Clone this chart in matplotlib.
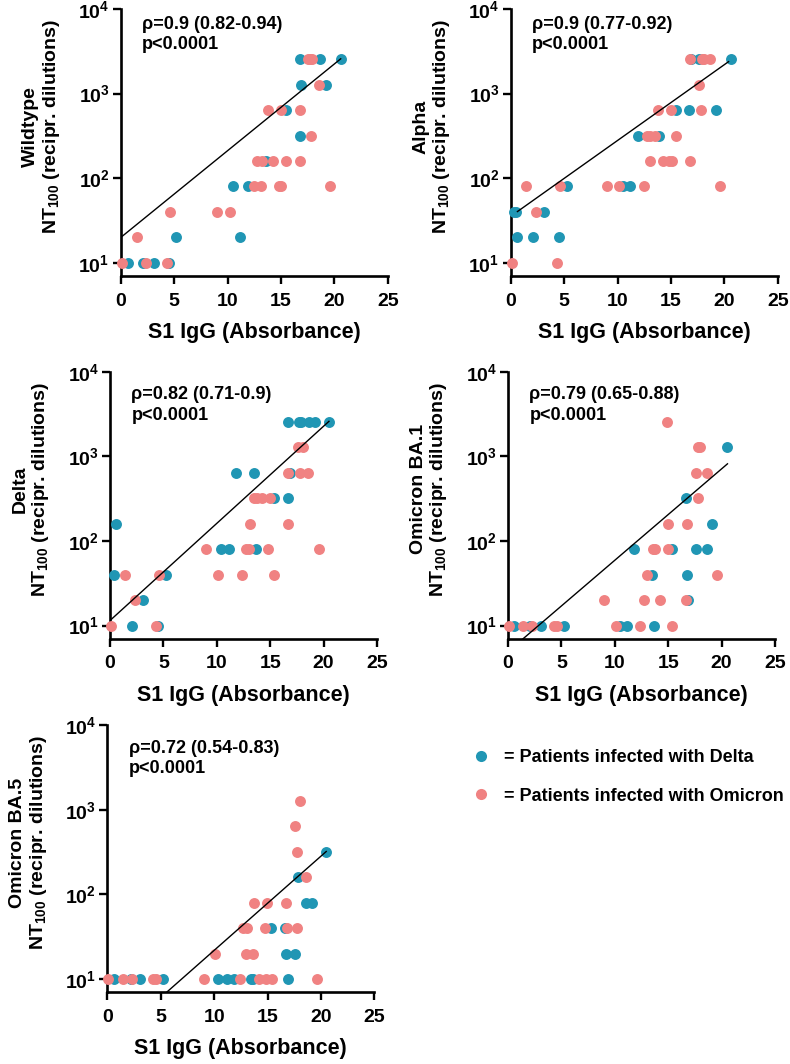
import matplotlib
matplotlib.use("Agg")
import matplotlib.pyplot as plt
from matplotlib.lines import Line2D
import numpy as np

plt.rcParams['font.family'] = ['Liberation Sans', 'DejaVu Sans']
plt.rcParams['font.weight'] = 'bold'
plt.rcParams['mathtext.fontset'] = 'custom'
plt.rcParams['mathtext.rm'] = 'Liberation Sans:bold'
plt.rcParams['mathtext.bf'] = 'Liberation Sans:bold'
plt.rcParams['mathtext.default'] = 'bf'

BLUE = '#2096b4'
PINK = '#f08282'

# ---- data (S1 IgG absorbance, NT100 titre) ----
# Wildtype
wt_delta_x = [16.8, 18.7, 20.6, 16.9, 19.25, 15.5, 16.75, 13.6, 10.5, 11.9, 5.2, 11.2, 0.65, 2.06, 3.15, 4.5]
wt_delta_y = [2560, 2560, 2560, 1280, 1280, 640, 320, 160, 80, 80, 20, 20, 10, 10, 10, 10]
wt_omi_x = [17.5, 17.7, 17.9, 18.6, 13.8, 15.0, 16.8, 17.8, 12.8, 13.2, 14.3, 15.5, 16.75,
            12.5, 13.1, 14.8, 15.0, 19.6, 4.65, 9.0, 10.2, 1.5, 0.1, 2.4, 4.3]
wt_omi_y = [2560, 2560, 2560, 1280, 640, 640, 640, 320, 160, 160, 160, 160, 160,
            80, 80, 80, 80, 80, 40, 40, 40, 20, 10, 10, 10]

# Alpha
al_delta_x = [16.9, 17.65, 20.6, 15.5, 16.7, 19.2, 11.9, 13.85, 5.25, 10.55, 11.2,
              0.3, 0.45, 3.15, 0.63, 2.06, 4.5]
al_delta_y = [2560, 2560, 2560, 640, 640, 640, 320, 320, 80, 80, 80,
              40, 40, 40, 20, 20, 20]
al_omi_x = [16.75, 17.9, 18.1, 18.7, 17.65, 13.8, 15.0, 17.8, 12.75, 13.06, 13.5, 15.5,
            13.06, 14.25, 14.8, 15.1, 16.75, 1.47, 4.6, 9.0, 10.15, 12.47, 19.6, 2.35, 0.15, 4.3]
al_omi_y = [2560, 2560, 2560, 2560, 1280, 640, 640, 640, 320, 320, 320, 320,
            160, 160, 160, 160, 160, 80, 80, 80, 80, 80, 80, 40, 10, 10]

# Delta
de_delta_x = [16.7, 17.65, 17.85, 18.66, 19.16, 20.5, 11.8, 13.46, 16.85, 15.36, 16.67,
              0.56, 10.4, 11.15, 13.7, 0.34, 5.2, 3.1, 2.06, 4.5]
de_delta_y = [2560, 2560, 2560, 2560, 2560, 2560, 640, 640, 640, 320, 320,
              160, 80, 80, 80, 40, 40, 20, 10, 10]
de_omi_x = [17.6, 18.07, 16.7, 17.75, 18.57, 13.5, 13.77, 14.2, 14.95, 13.08, 16.7,
            8.97, 12.74, 12.99, 14.83, 19.56, 1.4, 4.6, 10.1, 12.4, 15.39, 2.3, 0.1, 4.3]
de_omi_y = [1280, 1280, 640, 640, 640, 320, 320, 320, 320, 160, 160,
            80, 80, 80, 80, 80, 40, 40, 40, 40, 40, 20, 10, 10]

# Omicron BA.1
b1_delta_x = [20.5, 16.7, 19.1, 11.84, 15.4, 17.6, 18.66, 13.5, 16.8, 16.9,
              0.56, 2.06, 3.08, 5.23, 10.47, 11.15, 13.7]
b1_delta_y = [1280, 320, 160, 80, 80, 80, 80, 40, 40, 20,
              10, 10, 10, 10, 10, 10, 10]
b1_omi_x = [14.86, 17.8, 18.0, 17.6, 18.6, 17.8, 15.0, 16.8, 13.6, 13.8, 15.0, 13.0, 19.56,
            9.0, 12.77, 14.2, 16.7, 0.06, 1.43, 2.27, 4.3, 4.6, 10.1, 12.4, 15.4]
b1_omi_y = [2560, 1280, 1280, 640, 640, 320, 160, 160, 80, 80, 80, 40, 40,
            20, 20, 20, 20, 10, 10, 10, 10, 10, 10, 10, 10]

# Omicron BA.5
b5_delta_x = [20.5, 17.85, 18.63, 19.13, 15.36, 16.6, 16.73, 17.6,
              0.62, 2.18, 3.1, 5.17, 10.4, 11.2, 11.9, 13.5, 13.68, 16.9]
b5_delta_y = [320, 160, 80, 80, 40, 40, 20, 20,
              10, 10, 10, 10, 10, 10, 10, 10, 10, 10]
b5_omi_x = [18.0, 17.6, 17.8, 18.6, 13.74, 14.98, 16.73, 12.7, 13.1, 14.8, 16.8, 17.8,
            10.1, 12.96, 13.64, 0.1, 1.43, 2.34, 4.3, 4.6, 9.03, 12.46, 14.2, 14.9, 15.45, 19.6]
b5_omi_y = [1280, 640, 320, 160, 80, 80, 80, 40, 40, 40, 40, 40,
            20, 20, 20, 10, 10, 10, 10, 10, 10, 10, 10, 10, 10, 10]

variants = ['Wildtype', 'Alpha', 'Delta', 'Omicron BA.1', 'Omicron BA.5']
rho_text = ['ρ=0.9 (0.82-0.94)', 'ρ=0.9 (0.77-0.92)', 'ρ=0.82 (0.71-0.9)',
            'ρ=0.79 (0.65-0.88)', 'ρ=0.72 (0.54-0.83)']
# regression line: log10(NT100) = fit_b0 + fit_b1 * x, drawn from fit_x0 to fit_x1
fit_b0 = [1.30, 1.55, 1.06, 0.692, 0.226]
fit_b1 = [0.1025, 0.0896, 0.1148, 0.108, 0.1113]
fit_x0 = [0.0, 0.63, 0.0, 0.0, 0.0]
fit_x1 = [20.6, 20.4, 20.5, 20.55, 20.5]

delta_x = [wt_delta_x, al_delta_x, de_delta_x, b1_delta_x, b5_delta_x]
delta_y = [wt_delta_y, al_delta_y, de_delta_y, b1_delta_y, b5_delta_y]
omi_x = [wt_omi_x, al_omi_x, de_omi_x, b1_omi_x, b5_omi_x]
omi_y = [wt_omi_y, al_omi_y, de_omi_y, b1_omi_y, b5_omi_y]

W, H = 790, 1064
fig = plt.figure(figsize=(W / 100, H / 100), dpi=100)

# panel positions (left, top) in pixels, size in pixels
pos = [(120.7, 9), (510.7, 9), (110, 371.7), (508, 371.7), (107.3, 725.2)]
size = 267
text_y = [0.975, 0.975, 0.945, 0.945, 0.945]

for i in range(5):
    l, t = pos[i]
    ax = fig.add_axes([l / W, 1 - (t + size) / H, size / W, size / H])
    ax.scatter(delta_x[i], delta_y[i], s=62, color=BLUE, linewidths=0, zorder=3, clip_on=False)
    ax.scatter(omi_x[i], omi_y[i], s=62, color=PINK, linewidths=0, zorder=3, clip_on=False)
    xs = np.linspace(fit_x0[i], fit_x1[i], 100)
    ax.plot(xs, 10 ** (fit_b0[i] + fit_b1[i] * xs), color='black', lw=1.0, zorder=4)

    ax.set_yscale('log')
    ax.set_xlim(0, 25)
    ax.set_ylim(7, 10000)
    ax.set_xticks([0, 5, 10, 15, 20, 25])
    ax.set_yticks([10, 100, 1000, 10000])
    ax.set_yticklabels([r'$10^{1}$', r'$10^{2}$', r'$10^{3}$', r'$10^{4}$'])
    ax.minorticks_off()
    ax.tick_params(axis='both', labelsize=14, length=6, width=1.7)
    ax.tick_params(axis='x', pad=6)
    ax.tick_params(axis='y', pad=2)
    for side in ['top', 'right']:
        ax.spines[side].set_visible(False)
    for side in ['left', 'bottom']:
        ax.spines[side].set_linewidth(1.9)

    ax.set_xlabel('S1 IgG (Absorbance)', fontsize=15.5, fontweight='bold', labelpad=9)
    ax.set_ylabel(variants[i] + '\nNT$_{100}$ (recipr. dilutions)', fontsize=14,
                  fontweight='bold', multialignment='center', linespacing=1.1)
    ax.yaxis.set_label_coords(-0.22, 0.56)

    ax.text(0.08, text_y[i], rho_text[i] + '\np<0.0001', transform=ax.transAxes,
            fontsize=13, fontweight='bold', va='top', ha='left', linespacing=1.25)

handles = [Line2D([], [], marker='o', ls='none', markersize=8, color=BLUE, markeredgewidth=0),
           Line2D([], [], marker='o', ls='none', markersize=8, color=PINK, markeredgewidth=0)]
fig.legend(handles, ['= Patients infected with Delta', '= Patients infected with Omicron'],
           loc='upper left', bbox_to_anchor=(472 / W, 1 - 749 / H), frameon=False,
           fontsize=13, handlelength=1.0, handletextpad=0.75, labelspacing=1.2,
           borderaxespad=0, borderpad=0)

fig.savefig('out.png', dpi=100)
